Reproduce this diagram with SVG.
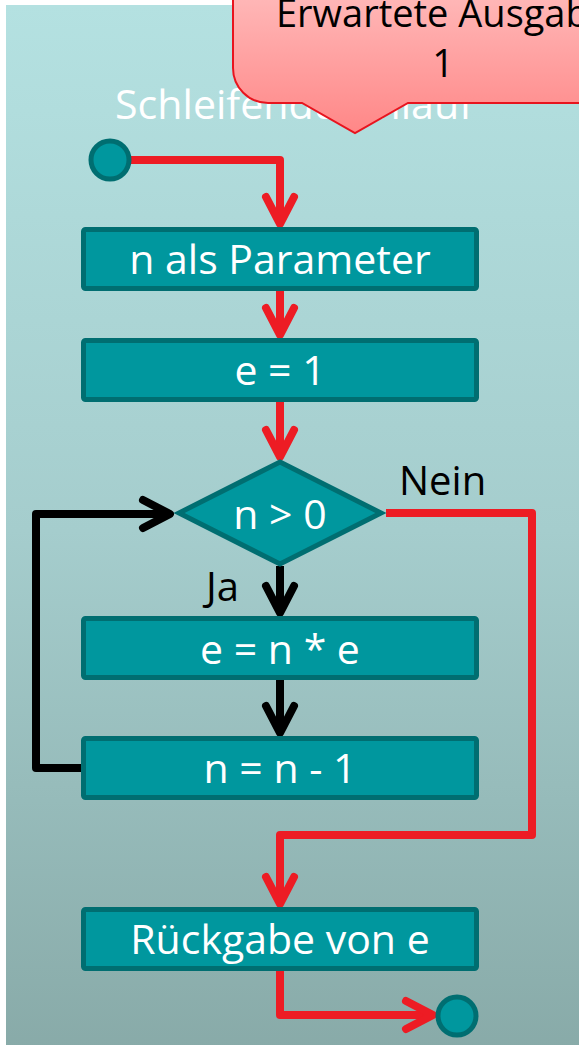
<svg xmlns="http://www.w3.org/2000/svg" width="579" height="1045" viewBox="0 0 579 1045">
<defs>
<linearGradient id="bg" x1="0" y1="0" x2="0" y2="1">
<stop offset="0" stop-color="#b4e1e1"/>
<stop offset="0.5" stop-color="#a5cdcd"/>
<stop offset="1" stop-color="#88aaa8"/>
</linearGradient>
<linearGradient id="pink" x1="0" y1="0" x2="0" y2="1">
<stop offset="0" stop-color="#ffbdbd"/>
<stop offset="1" stop-color="#ff8787"/>
</linearGradient>
<marker id="ar" markerUnits="userSpaceOnUse" orient="auto" markerWidth="40" markerHeight="40" overflow="visible">
<path d="M-27,-14 L0,0 L-27,14" fill="none" stroke="#ed1c24" stroke-width="8" stroke-linecap="round" stroke-linejoin="round"/>
</marker>
<marker id="ak" markerUnits="userSpaceOnUse" orient="auto" markerWidth="40" markerHeight="40" overflow="visible">
<path d="M-27,-14 L0,0 L-27,14" fill="none" stroke="#000000" stroke-width="8" stroke-linecap="round" stroke-linejoin="round"/>
</marker>
</defs>
<style>
.node{fill:#00979e;stroke:#006e71;stroke-width:5;}
.t{font-family:"Open Sans","Noto Sans","DejaVu Sans",sans-serif;font-size:41px;fill:#ffffff;text-anchor:middle;}
.lbl{font-family:"Open Sans","Noto Sans","DejaVu Sans",sans-serif;font-size:40px;fill:#000000;}
.red{fill:none;stroke:#ed1c24;stroke-width:8;stroke-linejoin:round;marker-end:url(#ar);}
.blk{fill:none;stroke:#000000;stroke-width:8;stroke-linejoin:round;marker-end:url(#ak);}
</style>
<rect x="0" y="0" width="579" height="1045" fill="#ffffff"/>
<rect x="6" y="5" width="580" height="1050" fill="url(#bg)"/>
<text x="294" y="119" class="t" textLength="358" lengthAdjust="spacingAndGlyphs">Schleifendurchlauf</text>

<g id="connectors">
<path class="red" d="M131,160 H280 V224"/>
<path class="red" d="M280,291 V335"/>
<path class="red" d="M280,402 V457"/>
<path class="red" d="M386,513 H532 V835 H280 V904"/>
<path class="blk" d="M280,566 V613"/>
<path class="blk" d="M280,680 V733"/>
<path class="blk" d="M81,768 H36 V514 H170"/>
<path class="red" d="M280,971 V1015 H433"/>
</g>

<g id="start"><circle cx="110" cy="160" r="19" class="node"/></g>
<g id="n-param"><rect x="83.5" y="229.5" width="393" height="59" rx="2" class="node"/><text x="280" y="274" class="t">n als Parameter</text></g>
<g id="e-init"><rect x="83.5" y="340.5" width="393" height="59" rx="2" class="node"/><text x="280" y="385" class="t">e = 1</text></g>
<g id="cond"><polygon points="280,462 381,513 280,564 179,513" class="node"/><text x="280" y="529" class="t">n &gt; 0</text></g>
<g id="mult"><rect x="83.5" y="618.5" width="393" height="59" rx="2" class="node"/><text x="280" y="664" class="t">e = n * e</text></g>
<g id="dec"><rect x="83.5" y="738.5" width="393" height="59" rx="2" class="node"/><text x="280" y="783" class="t">n = n - 1</text></g>
<g id="ret"><rect x="83.5" y="909.5" width="393" height="59" rx="2" class="node"/><text x="280" y="954" class="t">Rückgabe von e</text></g>
<g id="end"><circle cx="457" cy="1016" r="19" class="node"/></g>

<text x="399" y="495" class="lbl">Nein</text>
<text x="206" y="601" class="lbl">Ja</text>

<g id="callout">
<path d="M233,-20 V68 A35,35 0 0 0 268,103 H302 L355,133 L408,103 H600 V-20 Z" fill="url(#pink)" stroke="#e8141e" stroke-width="2"/>
<text x="443" y="27" font-family="'Open Sans','Noto Sans','DejaVu Sans',sans-serif" font-size="38" fill="#000000" text-anchor="middle">Erwartete Ausgabe</text>
<text x="443" y="77" font-family="'Open Sans','Noto Sans','DejaVu Sans',sans-serif" font-size="38" fill="#000000" text-anchor="middle">1</text>
</g>
</svg>
